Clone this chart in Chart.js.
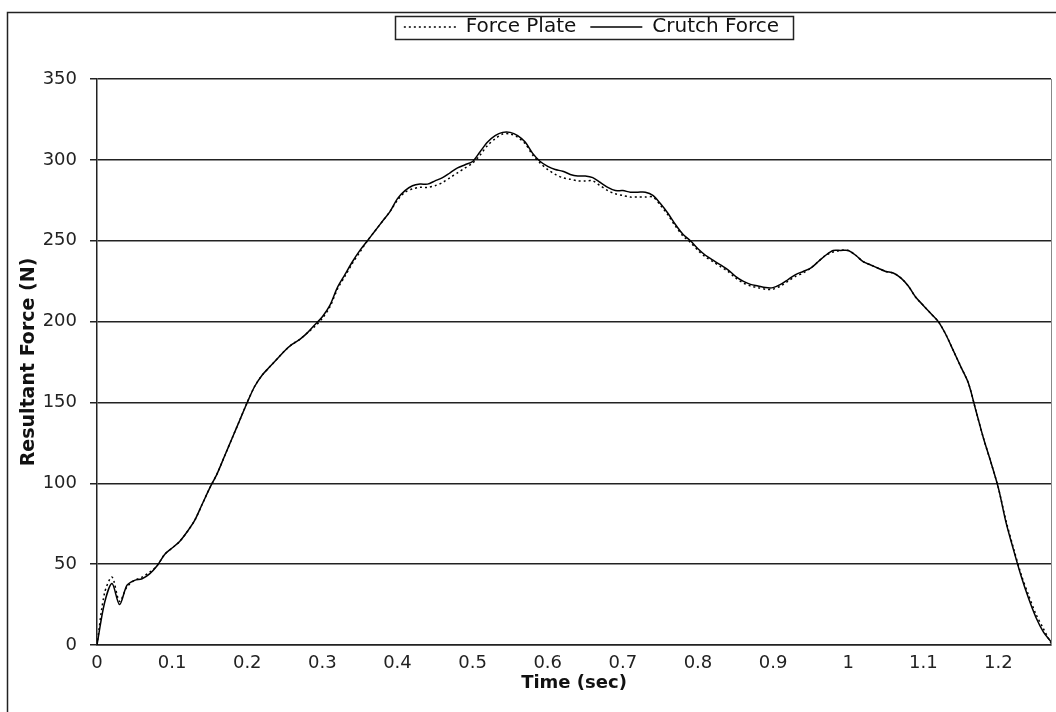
<!DOCTYPE html>
<html>
<head>
<meta charset="utf-8">
<script src="https://cdn.jsdelivr.net/npm/chart.js@4"></script>
<style>
  html, body { margin: 0; padding: 0; background: #fff; }
  #wrap { width: 1056px; height: 712px; }
</style>
</head>
<body>
<div id="wrap"><canvas id="forceChart" width="1056" height="712"></canvas></div>
<script>
// time in seconds
const timeSec = [
  0.00, 0.01, 0.02, 0.03, 0.04, 0.05, 0.06, 0.07, 0.08, 0.09,
  0.10, 0.11, 0.12, 0.13, 0.14, 0.15, 0.16, 0.17, 0.18, 0.19,
  0.20, 0.21, 0.22, 0.23, 0.24, 0.25, 0.26, 0.27, 0.28, 0.29,
  0.30, 0.31, 0.32, 0.33, 0.34, 0.35, 0.36, 0.37, 0.38, 0.39,
  0.40, 0.41, 0.42, 0.43, 0.44, 0.45, 0.46, 0.47, 0.48, 0.49,
  0.50, 0.51, 0.52, 0.53, 0.54, 0.55, 0.56, 0.57, 0.58, 0.59,
  0.60, 0.61, 0.62, 0.63, 0.64, 0.65, 0.66, 0.67, 0.68, 0.69,
  0.70, 0.71, 0.72, 0.73, 0.74, 0.75, 0.76, 0.77, 0.78, 0.79,
  0.80, 0.81, 0.82, 0.83, 0.84, 0.85, 0.86, 0.87, 0.88, 0.89,
  0.90, 0.91, 0.92, 0.93, 0.94, 0.95, 0.96, 0.97, 0.98, 0.99,
  1.00, 1.01, 1.02, 1.03, 1.04, 1.05, 1.06, 1.07, 1.08, 1.09,
  1.10, 1.11, 1.12, 1.13, 1.14, 1.15, 1.16, 1.17, 1.18, 1.19,
  1.20, 1.21, 1.22, 1.23, 1.24, 1.25, 1.26, 1.27
];

// force plate (dotted)
const forcePlate = [
  0, 32, 42, 27, 36, 40, 42, 45, 49, 56,
  60, 64, 70, 77, 87, 97, 106, 117, 128, 139,
  150, 160, 167, 172, 177, 182, 186, 189, 193, 197,
  202, 209, 220, 228, 236, 243, 250, 256, 262, 268,
  275, 280, 282, 283, 283, 284, 286, 289, 292, 295,
  298, 303, 309, 313, 316, 316, 314, 310, 303, 298,
  294, 291, 289, 288, 287, 287, 287, 284, 281, 279,
  278, 277, 277, 277, 277, 272, 266, 259, 253, 249,
  244, 240, 237, 234, 231, 227, 224, 222, 221, 220,
  220, 222, 225, 228, 230, 233, 237, 241, 243, 244,
  244, 241, 237, 235, 233, 231, 230, 227, 222, 215,
  210, 205, 200, 192, 182, 172, 162, 145, 128, 113,
  97, 77, 60, 44, 31, 19, 10, 1
];

// crutch force (solid)
const crutchForce = [
  0, 26, 38, 25, 37, 40, 41, 44, 49, 56,
  60, 64, 70, 77, 87, 97, 106, 117, 128, 139,
  150, 160, 167, 172, 177, 182, 186, 189, 193, 198,
  203, 210, 221, 229, 237, 244, 250, 256, 262, 268,
  276, 281, 284, 285, 285, 287, 289, 292, 295, 297,
  299, 305, 311, 315, 317, 317, 315, 311, 304, 299,
  296, 294, 293, 291, 290, 290, 289, 286, 283, 281,
  281, 280, 280, 280, 278, 273, 267, 260, 254, 250,
  245, 241, 238, 235, 232, 228, 225, 223, 222, 221,
  221, 223, 226, 229, 231, 233, 237, 241, 244, 244,
  244, 241, 237, 235, 233, 231, 230, 227, 222, 215,
  210, 205, 200, 192, 182, 172, 162, 145, 128, 113,
  97, 76, 59, 43, 29, 17, 8, 2
];

const xTicks = [0, 0.1, 0.2, 0.3, 0.4, 0.5, 0.6, 0.7, 0.8, 0.9, 1, 1.1, 1.2];
const yTicks = [0, 50, 100, 150, 200, 250, 300, 350];

const toPoints = (ys) => timeSec.map((t, i) => ({ x: t, y: ys[i] }));

// frame round the picture, box round the legend, right edge of plot
const framePlugin = {
  id: 'framePlugin',
  afterLayout(chart) {
    // move the legend up and a bit right, like the original
    const lg = chart.legend;
    const hb = lg.legendHitBoxes[0];
    const pad = lg.options.labels.padding;
    const dy = 27 - (lg.top + pad + hb.top + hb.height / 2);
    lg.top += dy;
    lg.bottom += dy;
    lg.left += 66;
    lg.right += 66;
  },
  afterDraw(chart) {
    const ctx = chart.ctx;
    const a = chart.chartArea;
    ctx.save();
    ctx.strokeStyle = '#222';
    ctx.lineWidth = 1.5;
    ctx.beginPath();
    ctx.moveTo(7.5, 712);
    ctx.lineTo(7.5, 12.5);
    ctx.lineTo(1056, 12.5);
    ctx.stroke();

    ctx.strokeStyle = '#888';
    ctx.lineWidth = 1;
    ctx.beginPath();
    ctx.moveTo(a.right + 0.5, a.top);
    ctx.lineTo(a.right + 0.5, a.bottom);
    ctx.stroke();

    const boxes = chart.legend.legendHitBoxes;
    if (boxes && boxes.length) {
      const l = Math.min(...boxes.map(b => b.left)) - 9;
      const r = Math.max(...boxes.map(b => b.left + b.width)) + 14;
      const t = 16;
      const btm = 39;
      ctx.strokeStyle = '#222';
      ctx.lineWidth = 1.5;
      ctx.strokeRect(Math.round(l) + 0.5, t + 0.5, Math.round(r - l), btm - t);
    }
    ctx.restore();
  }
};

const ctx = document.getElementById('forceChart').getContext('2d');
const forceChart = new Chart(ctx, {
  type: 'line',
  data: {
    datasets: [{
      label: 'Force Plate',
      data: toPoints(forcePlate),
      borderColor: '#000',
      backgroundColor: '#000',
      borderWidth: 1.5,
      borderDash: [2, 3],
      pointRadius: 0,
      pointStyle: 'line',
      tension: 0.3
    }, {
      label: 'Crutch Force',
      data: toPoints(crutchForce),
      borderColor: '#000',
      backgroundColor: '#000',
      borderWidth: 1.5,
      pointRadius: 0,
      pointStyle: 'line',
      tension: 0.3
    }]
  },
  options: {
    responsive: false,
    animation: false,
    devicePixelRatio: 1,
    layout: { padding: { top: 35, left: 0, right: 5, bottom: 18 } },
    plugins: {
      tooltip: { enabled: false },
      legend: {
        position: 'top',
        labels: {
          color: '#111',
          font: { family: 'DejaVu Sans', size: 20 },
          usePointStyle: true,
          pointStyleWidth: 52,
          boxHeight: 10,
          padding: 14,
          generateLabels: (chart) => Chart.defaults.plugins.legend.labels.generateLabels(chart).map(item => {
            item.lineDash = chart.data.datasets[item.datasetIndex].borderDash || [];
            item.lineWidth = 1.5;
            return item;
          })
        }
      }
    },
    scales: {
      x: {
        type: 'linear',
        min: 0,
        max: 1.27,
        afterBuildTicks: (scale) => { scale.ticks = xTicks.map(v => ({ value: v })); },
        afterFit: (scale) => { scale.height = 49; },
        grid: { display: false, drawTicks: false },
        border: { display: true, color: '#222', width: 1.5 },
        ticks: {
          color: '#222',
          padding: 8,
          maxRotation: 0,
          font: { family: 'DejaVu Sans', size: 18 },
          callback: (v) => String(Number(v.toFixed(1)))
        },
        title: {
          display: true,
          text: 'Time (sec)',
          color: '#111',
          padding: { top: 0, bottom: 0 },
          font: { family: 'DejaVu Sans', size: 18, weight: 'bold' }
        }
      },
      y: {
        min: 0,
        max: 350,
        afterBuildTicks: (scale) => { scale.ticks = yTicks.map(v => ({ value: v })); },
        afterFit: (scale) => { scale.width = 97; },
        grid: { color: '#222', lineWidth: 1.5, tickLength: 7 },
        border: { display: true, color: '#222', width: 1.5 },
        ticks: {
          color: '#222',
          padding: 13,
          font: { family: 'DejaVu Sans', size: 18 }
        },
        title: {
          display: true,
          text: 'Resultant Force (N)',
          color: '#111',
          padding: { top: 18, bottom: 0 },
          font: { family: 'DejaVu Sans', size: 19, weight: 'bold' }
        }
      }
    }
  },
  plugins: [framePlugin]
});
</script>
</body>
</html>
